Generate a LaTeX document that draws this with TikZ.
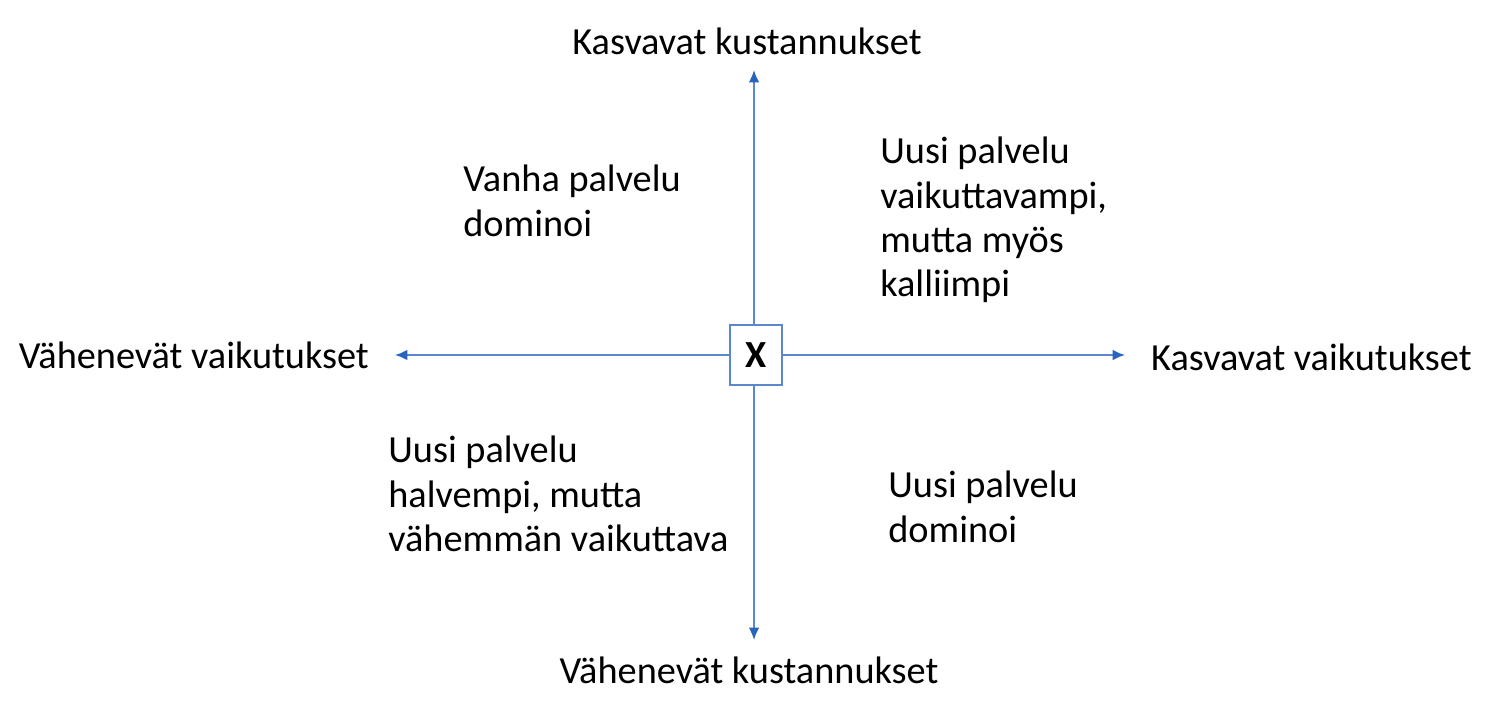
\documentclass[tikz,border=0pt]{standalone}
\usepackage{fontspec}
\setmainfont{Carlito}
\usetikzlibrary{arrows.meta}
\definecolor{axisblue}{RGB}{91,135,205}
\definecolor{tipblue}{RGB}{40,100,190}
\tikzset{
  axis label/.style={font=\fontsize{21.8}{25.2}\selectfont},
  quadrant/.style={font=\fontsize{21.8}{25.2}\selectfont,align=left,anchor=north west,inner sep=0pt}
}

\begin{document}
\begin{tikzpicture}
                    \useasboundingbox (0,0) rectangle (30,14.14);
                    \node (X) [draw=axisblue,line width=1pt,fill=white,minimum width=1.04cm,minimum height=1.2cm,font=\fontsize{21.8}{25}\selectfont\bfseries] at (15.12,7.04) {X};
                    \coordinate (L) at (7.9,7.04);
                    \coordinate (R) at (22.5,7.04);
                    \coordinate (T) at (15.08,12.74);
                    \coordinate (B) at (15.08,1.34);
                    \begin{scope}[every node/.style={axis label}]
                        \node (kk) at (14.94,13.32) {Kasvavat kustannukset};
                        \node (vk) at (14.98,0.74) {Vähenevät kustannukset};
                        \node (vv) [anchor=east] at (7.5,7.04) {Vähenevät vaikutukset};
                        \node (kv) [anchor=west] at (22.9,7.0) {Kasvavat vaikutukset};
                    \end{scope}
                    \begin{scope}[every node/.style={quadrant}]
                        \node (vanha) at (9.26,10.84) {Vanha palvelu\\dominoi};
                        \node (kallis) at (17.6,11.4) {Uusi palvelu\\vaikuttavampi,\\mutta myös\\kalliimpi};
                        \node (halpa) at (7.76,5.42) {Uusi palvelu\\halvempi, mutta\\vähemmän vaikuttava};
                        \node (dom) at (17.76,4.72) {Uusi palvelu\\dominoi};
                    \end{scope}
                    \begin{scope}[>={Latex[tipblue,length=7pt,width=6pt]},every edge/.style={draw=axisblue,line width=1.1pt}]
                        \path [->] (X) edge (L);
                        \path [->] (X) edge (R);
                        \path [->] (X.north -| T) edge (T);
                        \path [->] (X.south -| B) edge (B);
                    \end{scope}
                \end{tikzpicture}
\end{document}
